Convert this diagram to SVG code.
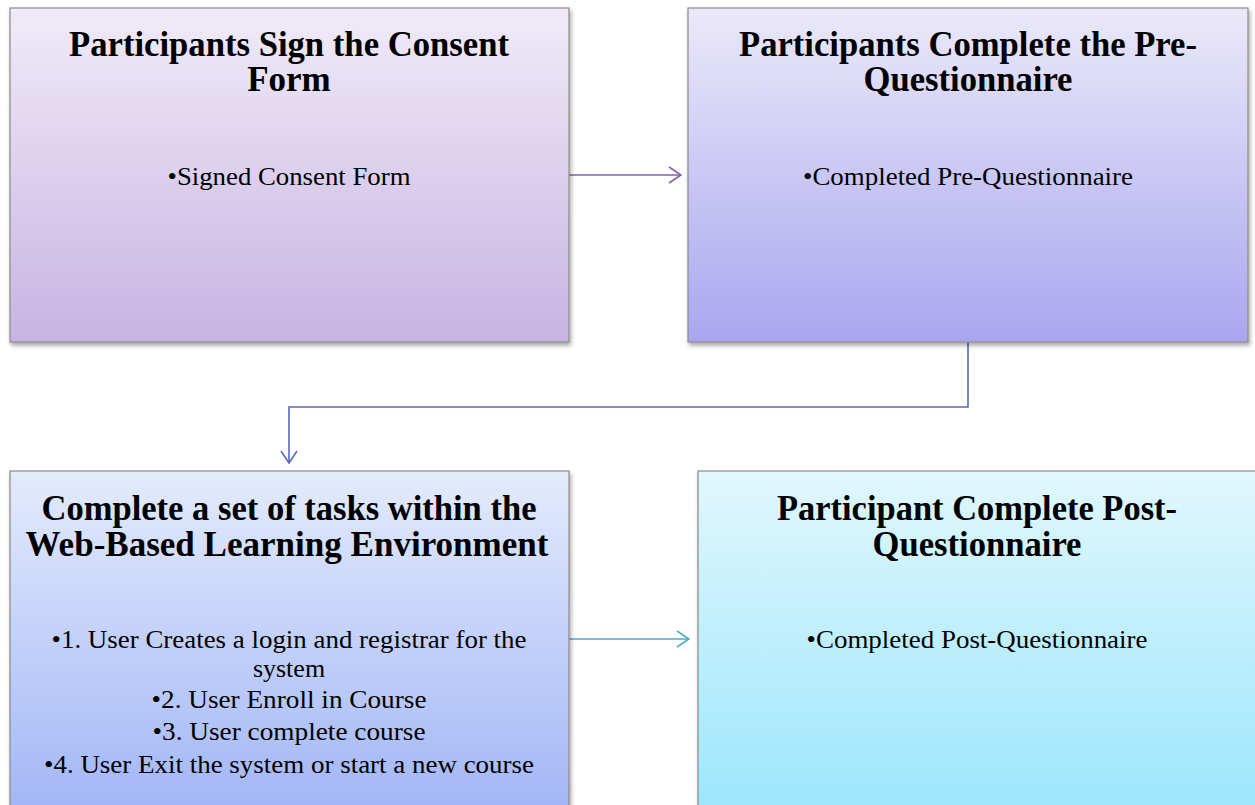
<svg xmlns="http://www.w3.org/2000/svg" width="1255" height="805" viewBox="0 0 1255 805">
  <style>
    .box { stroke: #8a8a8a; stroke-width: 1.2; filter: url(#shadow); }
    .title { font-family: "Liberation Serif", "Times New Roman", serif; font-weight: bold; font-size: 35px; fill: #000; text-anchor: middle; }
    .body { font-family: "Liberation Serif", "Times New Roman", serif; font-size: 26px; fill: #000; text-anchor: middle; }
    .conn { fill: none; stroke-width: 1.6; }
  </style>
  <defs>
    <linearGradient id="g1" x1="0" y1="0" x2="0" y2="1">
      <stop offset="0" stop-color="#f0ebf8"/>
      <stop offset="1" stop-color="#c7b4e2"/>
    </linearGradient>
    <linearGradient id="g2" x1="0" y1="0" x2="0" y2="1">
      <stop offset="0" stop-color="#ebe9f9"/>
      <stop offset="1" stop-color="#a9a6ef"/>
    </linearGradient>
    <linearGradient id="g3" x1="0" y1="0" x2="0" y2="1">
      <stop offset="0" stop-color="#e3ebfc"/>
      <stop offset="1" stop-color="#a2b6f6"/>
    </linearGradient>
    <linearGradient id="g4" x1="0" y1="0" x2="0" y2="1">
      <stop offset="0" stop-color="#e1f7fd"/>
      <stop offset="1" stop-color="#9ce6fc"/>
    </linearGradient>
    <filter id="shadow" x="-5%" y="-5%" width="112%" height="115%">
      <feDropShadow dx="1.5" dy="3" stdDeviation="2" flood-color="#000" flood-opacity="0.35"/>
    </filter>
    <marker id="arrPurple" viewBox="0 0 14 18" refX="13" refY="9" markerWidth="14" markerHeight="18" markerUnits="userSpaceOnUse" orient="auto">
      <path d="M1,1 L13,9 L1,17" fill="none" stroke="#7f63a8" stroke-width="1.6"/>
    </marker>
    <marker id="arrBlue" viewBox="0 0 14 18" refX="13" refY="9" markerWidth="14" markerHeight="18" markerUnits="userSpaceOnUse" orient="auto">
      <path d="M1,1 L13,9 L1,17" fill="none" stroke="#5b68b8" stroke-width="1.6"/>
    </marker>
    <marker id="arrTeal" viewBox="0 0 14 18" refX="13" refY="9" markerWidth="14" markerHeight="18" markerUnits="userSpaceOnUse" orient="auto">
      <path d="M1,1 L13,9 L1,17" fill="none" stroke="#4bacc6" stroke-width="1.6"/>
    </marker>
  </defs>

  <rect width="1255" height="805" fill="#ffffff"/>

  <!-- connectors -->
  <g id="connectors">
    <line class="conn" x1="569" y1="175" x2="681" y2="175" stroke="#7f63a8" marker-end="url(#arrPurple)"/>
    <polyline class="conn" points="968,342 968,407 289,407 289,463" stroke="#5b68b8" marker-end="url(#arrBlue)"/>
    <line class="conn" x1="569" y1="639" x2="689" y2="639" stroke="#4bacc6" marker-end="url(#arrTeal)"/>
  </g>

  <!-- step 1 -->
  <g id="node-consent">
    <rect class="box" x="10" y="8" width="559" height="334" fill="url(#g1)"/>
    <text class="title" x="289" y="56" textLength="440" lengthAdjust="spacingAndGlyphs">Participants Sign the Consent</text>
    <text class="title" x="289" y="91">Form</text>
    <text class="body" x="289" y="185" textLength="243" lengthAdjust="spacingAndGlyphs">•Signed Consent Form</text>
  </g>

  <!-- step 2 -->
  <g id="node-pre">
    <rect class="box" x="688" y="8" width="560" height="334" fill="url(#g2)"/>
    <text class="title" x="968" y="56" textLength="458" lengthAdjust="spacingAndGlyphs">Participants Complete the Pre-</text>
    <text class="title" x="968" y="91" textLength="209" lengthAdjust="spacingAndGlyphs">Questionnaire</text>
    <text class="body" x="968" y="185" textLength="330" lengthAdjust="spacingAndGlyphs">•Completed Pre-Questionnaire</text>
  </g>

  <!-- step 3 -->
  <g id="node-tasks">
    <rect class="box" x="10" y="471" width="559" height="340" fill="url(#g3)"/>
    <text class="title" x="289" y="520" textLength="495" lengthAdjust="spacingAndGlyphs">Complete a set of tasks within the</text>
    <text class="title" x="287" y="556" textLength="523" lengthAdjust="spacingAndGlyphs">Web-Based Learning Environment</text>
    <text class="body" x="289" y="648" textLength="475" lengthAdjust="spacingAndGlyphs">•1. User Creates a login and registrar for the</text>
    <text class="body" x="289" y="677">system</text>
    <text class="body" x="289" y="708" textLength="275" lengthAdjust="spacingAndGlyphs">•2. User Enroll in Course</text>
    <text class="body" x="289" y="740" textLength="273" lengthAdjust="spacingAndGlyphs">•3. User complete course</text>
    <text class="body" x="289" y="773" textLength="490" lengthAdjust="spacingAndGlyphs">•4. User Exit the system or start a new course</text>
  </g>

  <!-- step 4 -->
  <g id="node-post">
    <rect class="box" x="698" y="471" width="570" height="340" fill="url(#g4)"/>
    <text class="title" x="977" y="520" textLength="400" lengthAdjust="spacingAndGlyphs">Participant Complete Post-</text>
    <text class="title" x="977" y="556" textLength="209" lengthAdjust="spacingAndGlyphs">Questionnaire</text>
    <text class="body" x="977" y="648" textLength="341" lengthAdjust="spacingAndGlyphs">•Completed Post-Questionnaire</text>
  </g>
</svg>
